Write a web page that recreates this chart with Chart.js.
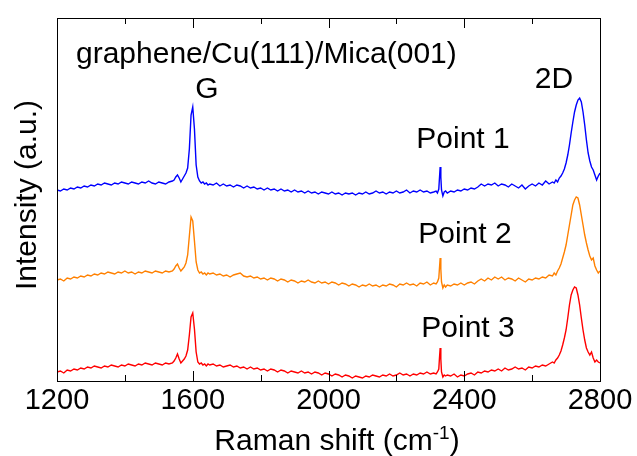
<!DOCTYPE html>
<html>
<head>
<meta charset="utf-8">
<script src="https://cdn.jsdelivr.net/npm/chart.js@4.4.1/dist/chart.umd.min.js"></script>
<style>
  html, body { margin: 0; padding: 0; background: #ffffff; }
  #wrap { width: 637px; height: 456px; }
</style>
</head>
<body>
<div id="wrap"><canvas id="ramanChart" width="637" height="456"></canvas></div>
<script>
// ============================================================
// Raman spectra of graphene/Cu(111)/Mica(001), three points
// ============================================================

// Raman shift (cm-1), denser around the G, 2330 and 2D peaks
const ramanShift = [
  1200, 1210, 1220, 1230, 1240, 1250, 1260, 1270, 1280, 1290, 1300, 1310, 1320, 1330, 1340, 1350, 1360, 1370,
  1380, 1390, 1400, 1410, 1420, 1430, 1440, 1450, 1460, 1470, 1480, 1490, 1500, 1510, 1520, 1530, 1540,
  1545, 1550, 1555, 1560, 1565, 1570, 1575, 1580, 1585, 1590, 1595, 1600, 1605, 1610, 1615, 1620, 1625, 1630,
  1635, 1640, 1645, 1650,
  1660, 1670, 1680, 1690, 1700, 1710, 1720, 1730, 1740, 1750, 1760, 1770, 1780, 1790, 1800, 1810, 1820, 1830,
  1840, 1850, 1860, 1870, 1880, 1890, 1900, 1910, 1920, 1930, 1940, 1950, 1960, 1970, 1980, 1990, 2000, 2010,
  2020, 2030, 2040, 2050, 2060, 2070, 2080, 2090, 2100, 2110, 2120, 2130, 2140, 2150, 2160, 2170, 2180, 2190,
  2200, 2210, 2220, 2230, 2240, 2250, 2260, 2270, 2280, 2290, 2300, 2310,
  2317, 2321, 2325, 2327, 2329, 2331, 2333, 2337, 2341, 2345,
  2350, 2360, 2370, 2380, 2390, 2400, 2410, 2420, 2430, 2440, 2450, 2460, 2470, 2480, 2490, 2500, 2510, 2520,
  2530, 2540, 2550, 2560, 2570, 2580, 2590, 2600, 2610, 2620, 2630, 2640, 2650, 2660,
  2665, 2670, 2675, 2680, 2685, 2690, 2695, 2700, 2705, 2710, 2715, 2720, 2725, 2730, 2735, 2740, 2745, 2750,
  2755, 2760, 2765, 2770, 2775, 2780, 2785, 2790, 2795, 2800
];

// intensities (a.u.), already offset for stacking
const point1 = [
  191, 190, 192, 191, 193, 192, 194, 193, 195, 194, 196, 195, 197, 196, 198, 197, 196, 198,
  197, 199, 198, 197, 199, 198, 197, 199, 198, 200, 198, 197, 199, 198, 197, 199, 200,
  201, 204, 206, 203, 199, 202, 205, 208, 213, 232, 266, 274, 252, 216, 204, 200, 198, 199,
  197, 198, 196, 197,
  196, 198, 195, 197, 195, 196, 194, 196, 195, 193, 195, 193, 194, 192, 193, 191, 193, 191,
  192, 190, 192, 190, 191, 189, 191, 189, 190, 188, 190, 188, 189, 187, 189, 188, 187, 189,
  187, 188, 186, 188, 187, 188, 186, 188, 187, 189, 187, 188, 190, 188, 189, 187, 189, 188,
  190, 188, 189, 191, 188, 190, 189, 191, 189, 190, 188, 189,
  190, 188, 192, 203, 214, 204, 191, 185, 189, 190,
  188, 190, 189, 191, 190, 192, 191, 193, 192, 194, 197, 195, 197, 196, 198, 195, 197, 196,
  194, 197, 195, 193, 196, 192, 195, 197, 195, 198, 196, 200, 197, 199,
  198, 201, 199, 203, 205, 208, 212, 218, 226, 236, 248, 259, 269, 276, 281, 283, 279, 269,
  256, 241, 228, 220, 214, 211, 206, 201, 205, 208
];

const point2 = [
  101, 102, 100, 103, 102, 104, 103, 105, 104, 106, 105, 107, 106, 108, 107, 109, 108, 107,
  109, 108, 110, 108, 109, 107, 109, 108, 110, 109, 108, 110, 109, 108, 110, 109, 110,
  112, 115, 117, 113, 110, 112, 114, 118, 126, 145, 164, 160, 140, 119, 111, 108, 109, 107,
  108, 106, 108, 107,
  108, 106, 107, 105, 106, 104, 106, 107, 108, 105, 104, 105, 103, 104, 102, 103, 101, 103,
  102, 100, 102, 101, 99, 101, 100, 98, 100, 99, 101, 99, 98, 100, 98, 99, 97, 99,
  98, 96, 98, 97, 95, 97, 96, 94, 96, 95, 97, 95, 96, 94, 96, 95, 97, 96,
  94, 97, 96, 98, 96, 97, 95, 98, 97, 99, 96, 98,
  97, 99, 103, 113, 123, 112, 99, 93, 96, 94,
  96, 95, 97, 96, 98, 96, 98, 99, 97, 100, 102, 100, 103, 101, 104, 102, 104, 101,
  103, 102, 100, 103, 101, 99, 102, 101, 103, 102, 104, 103, 106, 105,
  108, 106, 110, 113, 117, 123, 129, 136, 146, 156, 166, 176, 181, 184, 183, 176, 166, 156,
  146, 138, 131, 125, 121, 123, 115, 111, 108, 110
];

const point3 = [
  9, 10, 8, 11, 10, 12, 11, 13, 12, 14, 13, 15, 14, 13, 15, 14, 16, 15,
  14, 16, 15, 17, 16, 15, 17, 16, 18, 17, 16, 18, 17, 16, 18, 17, 18,
  20, 23, 27, 22, 18, 20, 22, 25, 31, 46, 64, 68, 52, 29, 19, 17, 18, 16,
  17, 15, 17, 16,
  17, 15, 16, 14, 15, 16, 14, 15, 13, 14, 12, 14, 12, 13, 11, 12, 10, 12,
  11, 9, 11, 10, 8, 10, 9, 8, 10, 8, 9, 7, 9, 8, 6, 8, 7, 5,
  7, 6, 4, 6, 5, 3, 5, 4, 3, 5, 4, 6, 5, 4, 6, 5, 7, 5,
  6, 8, 6, 7, 5, 7, 6, 8, 7, 9, 7, 8,
  7, 9, 12, 23, 33, 22, 9, 4, 6, 5,
  6, 5, 7, 4, 6, 5, 7, 8, 6, 9, 8, 10, 9, 11, 10, 12, 10, 13,
  11, 12, 14, 12, 13, 11, 14, 13, 15, 14, 16, 15, 17, 19,
  18, 21, 23, 26, 30, 36, 43, 51, 63, 76, 86, 91, 94, 93, 86, 76, 63, 51,
  41, 33, 29, 26, 29, 23, 19, 21, 19, 18
];

const xTicks = [1200, 1400, 1600, 1800, 2000, 2200, 2400, 2600, 2800];
const xLabels = [1200, 1600, 2000, 2400, 2800];

const seriesNames  = ['Point 1', 'Point 2', 'Point 3'];
const seriesValues = [point1, point2, point3];
const seriesColors = ['#0000FF', '#FF8000', '#FF0000'];

const FONT = '"Liberation Sans", Arial, sans-serif';

function toPoints(values) {
  return ramanShift.map((x, i) => ({ x: x, y: values[i] }));
}

// frame, inward ticks, tick labels and all the text on the figure
const framePlugin = {
  id: 'frame',
  afterDatasetsDraw(chart) {
    const { ctx, chartArea: a, scales } = chart;
    const xs = scales.x;
    ctx.save();
    ctx.strokeStyle = '#000000';
    ctx.lineWidth = 1;
    ctx.strokeRect(a.left + 0.5, a.top + 0.5, a.right - a.left, a.bottom - a.top);

    ctx.beginPath();
    xTicks.forEach(v => {
      const px = Math.round(xs.getPixelForValue(v)) + 0.5;
      const len = xLabels.includes(v) ? 10 : 6;
      ctx.moveTo(px, a.bottom);
      ctx.lineTo(px, a.bottom - len);
      ctx.moveTo(px, a.top);
      ctx.lineTo(px, a.top + len);
    });
    ctx.stroke();

    ctx.fillStyle = '#000000';
    ctx.textBaseline = 'alphabetic';
    ctx.textAlign = 'center';
    ctx.font = '29px ' + FONT;
    xLabels.forEach(v => {
      ctx.fillText(String(v), xs.getPixelForValue(v), a.bottom + 28);
    });

    ctx.font = '30px ' + FONT;
    ctx.textAlign = 'left';
    ctx.fillText('graphene/Cu(111)/Mica(001)', 76, 63);
    ctx.textAlign = 'center';
    ctx.fillText('G', 207, 98);
    ctx.fillText('2D', 554, 88);
    ctx.fillText(seriesNames[0], 463, 148);
    ctx.fillText(seriesNames[1], 465, 243);
    ctx.fillText(seriesNames[2], 468, 337);

    // x axis title with superscript
    const main = 'Raman shift (cm';
    const sup = '-1';
    const close = ')';
    ctx.font = '30px ' + FONT;
    const wMain = ctx.measureText(main).width;
    const wClose = ctx.measureText(close).width;
    ctx.font = '19px ' + FONT;
    const wSup = ctx.measureText(sup).width;
    let x0 = 337 - (wMain + wSup + wClose) / 2;
    ctx.textAlign = 'left';
    ctx.font = '30px ' + FONT;
    ctx.fillText(main, x0, 450);
    ctx.font = '19px ' + FONT;
    ctx.fillText(sup, x0 + wMain, 439);
    ctx.font = '30px ' + FONT;
    ctx.fillText(close, x0 + wMain + wSup, 450);

    // y axis title
    ctx.translate(36, 195);
    ctx.rotate(-Math.PI / 2);
    ctx.textAlign = 'center';
    ctx.fillText('Intensity (a.u.)', 0, 0);
    ctx.restore();
  }
};

new Chart(document.getElementById('ramanChart'), {
  type: 'line',
  data: {
    datasets: seriesNames.map((name, i) => ({
      label: name,
      data: toPoints(seriesValues[i]),
      borderColor: seriesColors[i],
      borderWidth: 1.4,
      pointRadius: 0,
      tension: 0,
      fill: false,
    }))
  },
  options: {
    responsive: false,
    animation: false,
    devicePixelRatio: 1,
    layout: { padding: { left: 57, right: 37, top: 18, bottom: 0 } },
    plugins: { legend: { display: false }, tooltip: { enabled: false } },
    scales: {
      x: {
        type: 'linear',
        min: 1200, max: 2800,
        grid: { display: false, drawTicks: false },
        border: { display: false },
        afterBuildTicks: s => { s.ticks = xTicks.map(v => ({ value: v })); },
        afterFit: s => { s.height = 75; },
        ticks: { display: false }
      },
      y: { display: false, min: 0, max: 363 }
    }
  },
  plugins: [framePlugin]
});
</script>
</body>
</html>
